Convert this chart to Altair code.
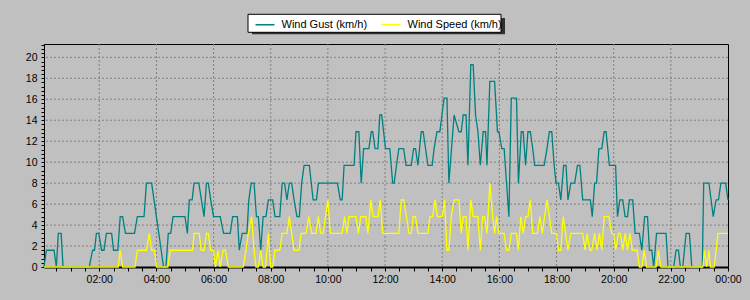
import altair as alt
import pandas as pd

SERIES = ["Wind Gust (km/h)", "Wind Speed (km/h)"]
COLORS = ["#008080", "#ffff00"]

GUST_TIMES = ["00:04", "00:09", "00:25", "00:30", "00:34", "00:40", "00:44", "01:39", "01:46", "01:50",
              "01:54", "01:59", "02:05", "02:10", "02:15", "02:26", "02:30", "02:39", "02:44", "02:49",
              "02:55", "03:14", "03:20", "03:34", "03:39", "03:50", "03:55", "04:00", "04:05", "04:10",
              "04:15", "04:20", "04:25", "04:30", "04:35", "05:00", "05:05", "05:09", "05:15", "05:19",
              "05:29", "05:40", "05:45", "05:49", "05:54", "06:00", "06:14", "06:21", "06:35", "06:40",
              "06:50", "06:54", "07:00", "07:10", "07:14", "07:19", "07:25", "07:30", "07:34", "07:39",
              "07:44", "07:50", "07:55", "08:04", "08:09", "08:19", "08:24", "08:29", "08:34", "08:39",
              "08:44", "08:49", "08:55", "09:00", "09:05", "09:10", "09:21", "09:29", "09:36", "09:40",
              "10:20", "10:26", "10:30", "10:34", "10:55", "10:59", "11:05", "11:10", "11:15", "11:26",
              "11:31", "11:34", "11:39", "11:45", "11:49", "11:53", "12:01", "12:10", "12:16", "12:19",
              "12:24", "12:29", "12:39", "12:44", "12:55", "13:00", "13:04", "13:09", "13:16", "13:20",
              "13:25", "13:30", "13:39", "13:43", "13:49", "13:55", "14:04", "14:10", "14:14", "14:25",
              "14:35", "14:40", "14:44", "14:50", "14:54", "15:00", "15:05", "15:10", "15:15", "15:20",
              "15:26", "15:31", "15:34", "15:40", "15:50", "15:56", "15:59", "16:05", "16:10", "16:20",
              "16:25", "16:36", "16:40", "16:46", "16:50", "16:55", "17:00", "17:05", "17:10", "17:14",
              "17:34", "17:40", "17:45", "17:50", "17:55", "17:59", "18:04", "18:09", "18:15", "18:20",
              "18:24", "18:30", "18:38", "18:44", "18:49", "18:55", "19:11", "19:15", "19:20", "19:24",
              "19:29", "19:35", "19:40", "19:44", "19:51", "20:04", "20:08", "20:13", "20:19", "20:24",
              "20:29", "20:33", "20:40", "20:45", "20:54", "20:59", "21:05", "21:11", "21:15", "21:20",
              "21:24", "21:30", "21:50", "21:54", "22:06", "22:11", "22:16", "22:20", "22:25", "22:32",
              "22:39", "22:44", "23:06", "23:09", "23:20", "23:29", "23:35", "23:40", "23:45", "23:55",
              "24:00"]
GUST_KMH = [0, 1.6, 1.6, 0, 3.2, 3.2, 0, 0, 1.6, 1.6,
            3.2, 3.2, 1.6, 1.6, 3.2, 3.2, 1.6, 1.6, 4.8, 4.8,
            3.2, 3.2, 4.8, 4.8, 8.0, 8.0, 6.4, 4.8, 3.2, 1.6,
            0, 0, 3.2, 3.2, 4.8, 4.8, 3.2, 6.4, 6.4, 8.0,
            8.0, 4.8, 8.0, 8.0, 6.4, 4.8, 4.8, 3.2, 3.2, 4.8,
            4.8, 1.6, 3.2, 3.2, 6.4, 8.0, 8.0, 4.8, 4.8, 1.6,
            4.8, 4.8, 6.4, 6.4, 4.8, 4.8, 8.0, 8.0, 6.4, 8.0,
            8.0, 6.4, 4.8, 4.8, 8.0, 9.7, 9.7, 6.4, 6.4, 8.0,
            8.0, 6.4, 6.4, 9.7, 9.7, 12.9, 12.9, 8.0, 11.3, 11.3,
            12.9, 12.9, 11.3, 11.3, 14.5, 14.5, 11.3, 11.3, 8.0, 8.0,
            9.7, 11.3, 11.3, 9.7, 9.7, 11.3, 11.3, 9.7, 12.9, 12.9,
            11.3, 9.7, 9.7, 11.3, 12.9, 12.9, 16.1, 16.1, 8.0, 14.5,
            12.9, 12.9, 14.5, 14.5, 9.7, 19.3, 19.3, 14.5, 12.9, 9.7,
            12.9, 12.9, 9.7, 17.7, 17.7, 12.9, 12.9, 11.3, 11.3, 4.8,
            16.1, 16.1, 8.0, 12.9, 12.9, 9.7, 12.9, 12.9, 11.3, 9.7,
            9.7, 11.3, 12.9, 12.9, 9.7, 8.0, 8.0, 6.4, 9.7, 9.7,
            6.4, 8.0, 8.0, 9.7, 9.7, 6.4, 6.4, 4.8, 8.0, 8.0,
            11.3, 11.3, 12.9, 12.9, 9.7, 9.7, 4.8, 6.4, 6.4, 4.8,
            4.8, 6.4, 6.4, 3.2, 3.2, 1.6, 4.8, 4.8, 1.6, 1.6,
            0, 3.2, 3.2, 0, 0, 1.6, 1.6, 0, 0, 3.2,
            3.2, 0, 0, 8.0, 8.0, 4.8, 6.4, 6.4, 8.0, 8.0,
            6.4]

SPEED_TIMES = ["00:04", "02:40", "02:44", "02:49", "03:15", "03:20", "03:39", "03:45", "03:50", "03:56",
               "04:00", "04:24", "04:29", "05:16", "05:19", "05:30", "05:34", "05:40", "05:45", "05:49",
               "05:54", "06:00", "06:04", "06:09", "06:14", "06:20", "06:25", "06:31", "07:02", "07:08",
               "07:13", "07:20", "07:25", "07:29", "07:34", "07:39", "07:44", "07:49", "07:55", "08:00",
               "08:04", "08:09", "08:19", "08:24", "08:34", "08:39", "08:44", "08:49", "08:59", "09:04",
               "09:14", "09:20", "09:26", "09:35", "09:40", "09:45", "09:50", "09:55", "10:00", "10:05",
               "10:30", "10:35", "10:40", "10:44", "10:59", "11:04", "11:09", "11:20", "11:24", "11:30",
               "11:35", "11:45", "11:50", "11:55", "12:29", "12:34", "12:39", "12:45", "12:50", "12:55",
               "12:59", "13:04", "13:09", "13:30", "13:34", "13:40", "13:45", "13:50", "14:00", "14:05",
               "14:10", "14:14", "14:19", "14:25", "14:35", "14:40", "14:44", "14:50", "14:54", "15:00",
               "15:05", "15:15", "15:20", "15:25", "15:29", "15:34", "15:40", "15:46", "15:50", "15:54",
               "15:59", "16:10", "16:15", "16:20", "16:25", "16:36", "16:40", "16:45", "16:50", "16:55",
               "17:00", "17:05", "17:10", "17:20", "17:25", "17:30", "17:35", "17:40", "17:45", "17:50",
               "18:00", "18:04", "18:09", "18:14", "18:19", "18:24", "18:30", "18:55", "19:00", "19:04",
               "19:10", "19:14", "19:20", "19:25", "19:30", "19:35", "19:40", "19:50", "19:56", "20:00",
               "20:04", "20:10", "20:14", "20:19", "20:24", "20:29", "20:34", "20:39", "20:49", "20:54",
               "20:59", "21:04", "21:09", "21:29", "21:34", "21:39", "23:07", "23:11", "23:15", "23:20",
               "23:23", "23:31", "23:39", "24:00"]
SPEED_KMH = [0, 0, 1.6, 0, 0, 1.6, 1.6, 3.2, 1.6, 1.6,
             0, 0, 1.6, 1.6, 3.2, 3.2, 1.6, 1.6, 3.2, 3.2,
             1.6, 1.6, 0, 1.6, 0, 1.6, 1.6, 0, 0, 1.6,
             3.2, 4.8, 1.6, 0, 0, 1.6, 0, 0, 3.2, 0,
             0, 1.6, 1.6, 3.2, 3.2, 4.8, 3.2, 1.6, 1.6, 3.2,
             3.2, 4.8, 3.2, 3.2, 4.8, 3.2, 3.2, 4.8, 6.4, 3.2,
             3.2, 4.8, 3.2, 4.8, 4.8, 3.2, 4.8, 4.8, 3.2, 6.4,
             4.8, 4.8, 6.4, 3.2, 3.2, 6.4, 6.4, 4.8, 3.2, 3.2,
             4.8, 4.8, 3.2, 3.2, 4.8, 4.8, 6.4, 4.8, 4.8, 6.4,
             1.6, 1.6, 4.8, 6.4, 6.4, 3.2, 4.8, 4.8, 1.6, 6.4,
             4.8, 4.8, 1.6, 4.8, 4.8, 3.2, 8.0, 4.8, 3.2, 4.8,
             3.2, 3.2, 1.6, 1.6, 3.2, 3.2, 1.6, 4.8, 3.2, 4.8,
             4.8, 6.4, 3.2, 3.2, 4.8, 3.2, 4.8, 6.4, 4.8, 3.2,
             3.2, 1.6, 1.6, 4.8, 3.2, 1.6, 3.2, 3.2, 1.6, 3.2,
             1.6, 1.6, 3.2, 1.6, 3.2, 1.6, 4.8, 4.8, 3.2, 3.2,
             1.6, 3.2, 3.2, 1.6, 3.2, 1.6, 3.2, 1.6, 1.6, 0,
             0, 1.6, 0, 0, 1.6, 0, 0, 1.6, 0, 1.6,
             0, 0, 3.2, 3.2]

X_GRID_HOURS = [2, 4, 6, 8, 10, 12, 14, 16, 18, 20, 22]
Y_GRID_VALUES = [2, 4, 6, 8, 10, 12, 14, 16, 18, 20]
X_TICK_HOURS = [0.5, 1, 1.5, 2, 2.5, 3, 3.5, 4, 4.5, 5, 5.5, 6, 6.5, 7, 7.5, 8, 8.5, 9, 9.5, 10,
                10.5, 11, 11.5, 12, 12.5, 13, 13.5, 14, 14.5, 15, 15.5, 16, 16.5, 17, 17.5, 18,
                18.5, 19, 19.5, 20, 20.5, 21, 21.5, 22, 22.5, 23, 23.5, 24]
Y_TICK_VALUES = [round(i * 0.4, 1) for i in range(0, 54)]

FONT = "Liberation Sans"


def to_hours(s):
    hh, mm = s.split(":")
    return int(hh) + int(mm) / 60.0


rows = []
for t, v in zip(GUST_TIMES, GUST_KMH):
    rows.append({"h": to_hours(t), "v": v, "series": SERIES[0]})
for t, v in zip(SPEED_TIMES, SPEED_KMH):
    rows.append({"h": to_hours(t), "v": v, "series": SERIES[1]})
df = pd.DataFrame(rows)

xscale = alt.Scale(domain=[4 / 60.0, 24], nice=False, zero=False)
yscale = alt.Scale(domain=[0, 21.27], nice=False)

xaxis = alt.Axis(
    title=None, values=X_TICK_HOURS, grid=False,
    labelExpr="datum.value % 2 == 0 ? format(datum.value % 24, '02d') + ':00' : ''",
    tickSize=4, tickColor="black", domainColor="black", domainWidth=2,
    labelFont=FONT, labelFontSize=10.5, labelColor="black", labelPadding=3,
    labelOverlap=False, labelFlush=False, labelBound=False,
)
yaxis = alt.Axis(
    title=None, values=Y_TICK_VALUES, grid=False,
    labelExpr="abs(datum.value / 2 - round(datum.value / 2)) < 0.01 ? format(datum.value, 'd') : ''",
    tickSize=3, tickColor="black", domainColor="black", domainWidth=1,
    labelFont=FONT, labelFontSize=10.5, labelColor="black", labelPadding=4,
    labelOverlap=False, labelFlush=False, labelBound=False,
)

ygrid = alt.Chart(pd.DataFrame({"v": Y_GRID_VALUES})).mark_rule(
    color="#808080", strokeDash=[2, 2], strokeWidth=1
).encode(y=alt.Y("v:Q", scale=yscale, axis=yaxis))

xgrid = alt.Chart(pd.DataFrame({"h": X_GRID_HOURS})).mark_rule(
    color="#808080", strokeDash=[2, 2], strokeWidth=1
).encode(x=alt.X("h:Q", scale=xscale, axis=xaxis))

frame_df = pd.DataFrame({"k": [0]})
shadow = alt.Chart(frame_df).mark_rect(color="#303030").encode(
    x=alt.value(208), x2=alt.value(461), y=alt.value(-26), y2=alt.value(-9.7)
)
frame = alt.Chart(frame_df).mark_rect(fill="white", stroke="black", strokeWidth=1).encode(
    x=alt.value(204), x2=alt.value(457), y=alt.value(-29.7), y2=alt.value(-11.7)
)

legend = alt.Legend(
    orient="none", legendX=210.5, legendY=-30, direction="horizontal", title=None,
    symbolType="stroke", symbolSize=361, symbolStrokeWidth=1.5,
    labelFont=FONT, labelFontSize=11, labelColor="black", labelOffset=6,
    columnPadding=11, padding=0, rowPadding=0,
)

lines = alt.Chart(df).mark_line(strokeWidth=1.3).encode(
    x=alt.X("h:Q", scale=xscale, axis=xaxis),
    y=alt.Y("v:Q", scale=yscale, axis=yaxis),
    color=alt.Color("series:N", scale=alt.Scale(domain=SERIES, range=COLORS), legend=legend),
)

chart = alt.layer(ygrid, xgrid, shadow, frame, lines).properties(
    width=684, height=223,
    padding={"left": 44, "top": 44, "right": 22, "bottom": 33},
    autosize=alt.AutoSizeParams(type="none"),
).configure(background="#c0c0c0", font=FONT).configure_view(
    fill="#c0c0c0", stroke="black", strokeWidth=1
)

chart.save("out.html", embed_options={"renderer": "svg", "actions": False})
